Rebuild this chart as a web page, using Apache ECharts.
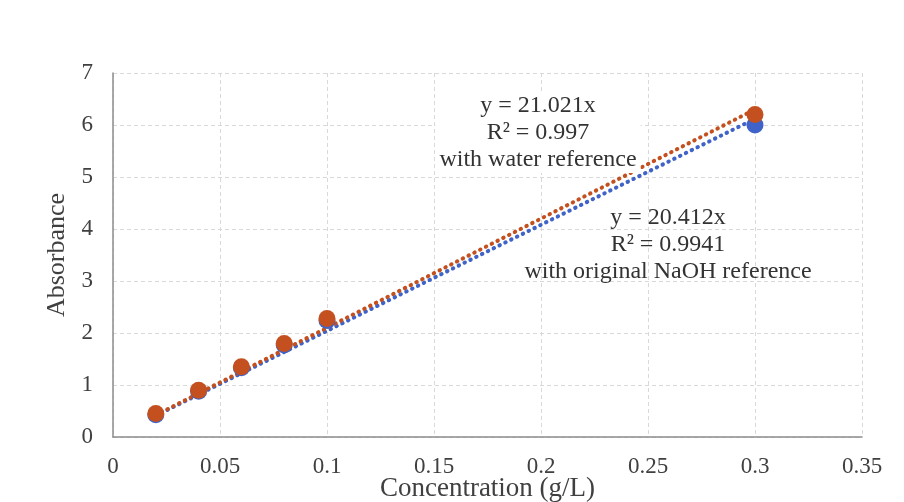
<!DOCTYPE html>
<html>
<head>
<meta charset="utf-8">
<script src="https://cdn.jsdelivr.net/npm/echarts@6/dist/echarts.min.js"></script>
<style>
  html, body { margin: 0; padding: 0; background: #fff; }
  #chart { width: 904px; height: 502px; }
</style>
</head>
<body>
<div id="chart"></div>
<script>
const COLORS = {
  water: "#c4501f",
  naoh: "#3f63c8",
  grid: "#d9d9d9",
  axis: "#8c8c8c",
  text: "#404040",
};
const FONT = "'Liberation Serif', 'DejaVu Serif', serif";

// measured points (concentration g/L, absorbance)
const concentration = [0.02, 0.04, 0.06, 0.08, 0.1, 0.3];
const absWater = [0.45, 0.9, 1.35, 1.8, 2.28, 6.2];
const absNaoh = [0.43, 0.88, 1.33, 1.77, 2.24, 6.0];

// trendline endpoints
const trendWater = [[0.02, 0.42], [0.3, 6.3]];
const trendNaoh = [[0.02, 0.41], [0.3, 6.12]];

const labelWater = ["y = 21.021x", "R² = 0.997", "with water reference"];
const labelNaoh = ["y = 20.412x", "R² = 0.9941", "with original NaOH reference"];

const pts = (ys) => concentration.map((x, i) => [x, ys[i]]);

function trendSeries(data, color) {
  return {
    type: "line",
    data,
    symbol: "none",
    silent: true,
    lineStyle: { color, width: 4, type: [0.5, 6], cap: "round" },
    z: 2,
  };
}

function scatterSeries(data, color, z) {
  return {
    type: "scatter",
    data,
    symbolSize: 17,
    itemStyle: { color, opacity: 1 },
    z,
  };
}

function textBlock(lines, cx, top, bg) {
  return {
    type: "text",
    x: cx,
    y: top,
    z: 10,
    style: {
      text: lines.join("\n"),
      font: `24px ${FONT}`,
      fill: "#333",
      align: "center",
      verticalAlign: "top",
      lineHeight: 27,
      backgroundColor: bg || "transparent",
      padding: [0, 4],
    },
  };
}

const chart = echarts.init(document.getElementById("chart"));
chart.setOption({
  animation: false,
  grid: { left: 113, right: 42, top: 73, bottom: 65, containLabel: false, outerBoundsMode: "none" },
  xAxis: {
    type: "value",
    min: 0,
    max: 0.35,
    interval: 0.05,
    name: "Concentration (g/L)",
    nameLocation: "middle",
    nameGap: 38,
    nameMoveOverlap: false,
    nameTextStyle: { fontFamily: FONT, fontSize: 27, color: COLORS.text },
    axisLine: { show: true, lineStyle: { color: COLORS.axis, width: 1.5 } },
    axisTick: { show: false },
    axisLabel: { fontFamily: FONT, fontSize: 23, color: COLORS.text, margin: 18 },
    splitLine: { show: true, lineStyle: { color: COLORS.grid, type: [4, 3] } },
  },
  yAxis: {
    type: "value",
    min: 0,
    max: 7,
    interval: 1,
    name: "Absorbance",
    nameLocation: "middle",
    nameGap: 43,
    nameMoveOverlap: false,
    nameTextStyle: { fontFamily: FONT, fontSize: 26, color: COLORS.text },
    axisLine: { show: true, lineStyle: { color: COLORS.axis, width: 1.5 } },
    axisTick: { show: false },
    axisLabel: { fontFamily: FONT, fontSize: 23, color: COLORS.text, margin: 20 },
    splitLine: { show: true, lineStyle: { color: COLORS.grid, type: [4, 3] } },
  },
  series: [
    trendSeries(trendNaoh, COLORS.naoh),
    trendSeries(trendWater, COLORS.water),
    scatterSeries(pts(absNaoh), COLORS.naoh, 3),
    scatterSeries(pts(absWater), COLORS.water, 4),
  ],
  graphic: [
    textBlock(labelWater, 538, 92, "#fff"),
    textBlock(labelNaoh, 668, 204),
  ],
});
</script>
</body>
</html>
